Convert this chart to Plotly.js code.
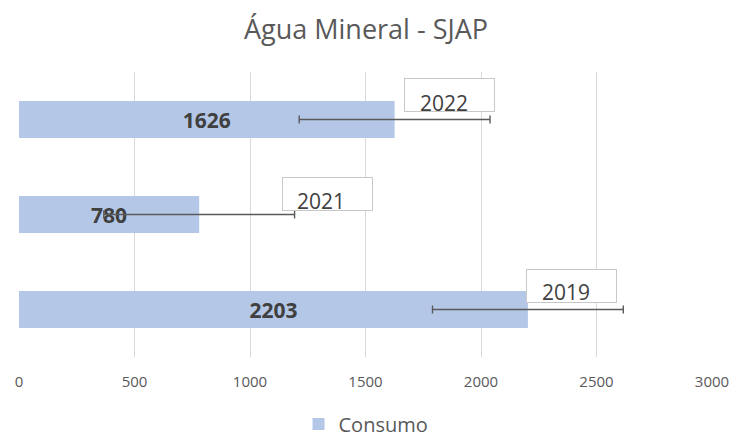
<!DOCTYPE html>
<html>
<head>
<meta charset="utf-8">
<script src="https://cdn.plot.ly/plotly-3.0.1.min.js"></script>
<style>html,body{margin:0;padding:0;background:#fff}#chart{width:732px;height:437px}</style>
</head>
<body>
<div id="chart"></div>
<script>
const categories = ["2019", "2021", "2022"];
const consumo = [2203, 780, 1626];
const erro = [413, 413, 413];
const tickVals = [0, 500, 1000, 1500, 2000, 2500, 3000];
const seriesName = "Consumo";
const chartTitle = "Água Mineral - SJAP";

const FONT = "'Open Sans', sans-serif";
// label box offsets (pixels) relative to the end of each error bar: [box dx, box dy(up), text dx, text dy(up)]
const labelShift = {"2019": [-51.5, 23.5, -5.5, -6], "2021": [33.4, 21, -7, -7.5], "2022": [-40.5, 25, -6, -8]};

const trace = {
  type: 'bar',
  orientation: 'h',
  y: categories,
  x: consumo,
  name: seriesName,
  marker: {color: '#b4c7e7'},
  text: consumo.map(String),
  textposition: 'inside',
  insidetextanchor: 'middle',
  constraintext: 'none',
  textfont: {family: FONT, size: 21, color: '#404040', weight: 'bold'},
  error_x: {type: 'data', array: erro, visible: true, color: '#5a5a5a', thickness: 1.4, width: 4},
  hoverinfo: 'none'
};

const annotations = [];
categories.forEach((c, i) => {
  const s = labelShift[c];
  annotations.push({
    x: consumo[i] + erro[i], y: i, xref: 'x', yref: 'y',
    text: ' ', showarrow: false,
    xshift: s[0], yshift: s[1],
    width: 89, height: 32,
    bgcolor: '#ffffff', bordercolor: '#c8c8c8', borderwidth: 1, borderpad: 0
  });
  annotations.push({
    x: consumo[i] + erro[i], y: i, xref: 'x', yref: 'y',
    text: c, showarrow: false,
    xshift: s[0] + s[2], yshift: s[1] + s[3],
    font: {family: FONT, size: 21, color: '#404040'}
  });
});

const layout = {
  width: 732, height: 437,
  margin: {l: 19, r: 20, t: 72, b: 80},
  paper_bgcolor: '#ffffff', plot_bgcolor: '#ffffff',
  title: {text: chartTitle, x: 0.5, xanchor: 'center', y: 0.932, yanchor: 'middle',
          font: {family: FONT, size: 27, color: '#595959'}},
  xaxis: {range: [0, 3000], tickvals: tickVals, ticktext: tickVals.map(String),
          showgrid: true, gridcolor: '#d9d9d9', gridwidth: 1, zeroline: false,
          showline: false, ticks: '', ticklabelstandoff: 14,
          tickfont: {family: FONT, size: 15, color: '#595959'}},
  yaxis: {type: 'category', categoryorder: 'array', categoryarray: categories,
          range: [-0.5, 2.5], autorange: false,
          showticklabels: false, showgrid: false, zeroline: false, showline: false, ticks: ''},
  bargap: 0.61,
  showlegend: true,
  legend: {orientation: 'h', x: 0.5, xref: 'container', xanchor: 'center',
           y: 0.03, yref: 'container', yanchor: 'middle',
           font: {family: FONT, size: 20, color: '#595959'}},
  annotations: annotations
};

Plotly.newPlot('chart', [trace], layout, {staticPlot: true, displayModeBar: false});
</script>
</body>
</html>
